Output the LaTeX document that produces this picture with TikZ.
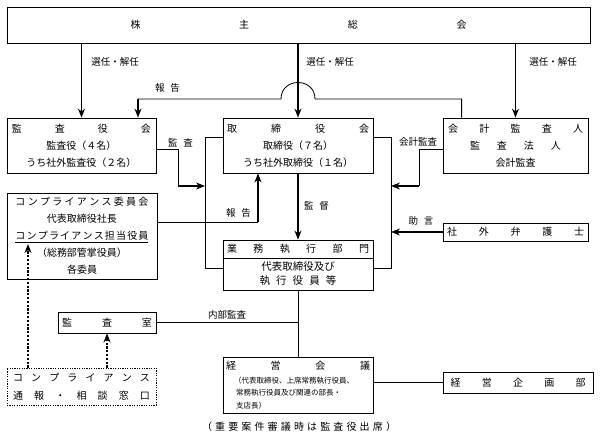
\documentclass[tikz,border=0pt]{standalone}
\usepackage{fontspec}
\newfontfamily\jp{Noto Sans CJK JP}
\usetikzlibrary{positioning,arrows.meta}
\tikzset{
	>={Stealth[length=9pt,width=7pt]},
	orgbox/.style = {draw, line width=0.8pt, inner sep=0pt},
	dotbox/.style = {draw, line width=1pt, dash pattern=on 1.2pt off 1.2pt, inner sep=0pt},
	conn/.style = {line width=0.8pt},
	arr/.style = {->, line width=1.4pt},
	dotarr/.style = {->, line width=1.8pt, dash pattern=on 2.2pt off 1.6pt},
	lbl/.style = {inner sep=0pt, font=\jp\fontsize{9.5}{12}\selectfont},
}
\newcommand{\spread}[2]{\makebox[#1]{#2}}

\begin{document}
\begin{tikzpicture}[
x = 1pt, y = -1pt,
every node/.style = {
	font = \jp\fontsize{10}{17}\selectfont,
	align = center,
}
]
\useasboundingbox (0,0) rectangle (600,437);

% boxes
\node[orgbox, minimum width=583pt, minimum height=36pt] (soukai) at (298.5,25) {\spread{336pt}{株\hfill 主\hfill 総\hfill 会}};
\node[orgbox, minimum width=149pt, minimum height=55pt] (kansa) at (81.5,145.5) {\spread{139pt}{監\hfill 査\hfill 役\hfill 会}\\ 監査役（４名）\\ うち社外監査役（２名）};
\node[orgbox, minimum width=150pt, minimum height=55pt] (torishimari) at (298,145.5) {\spread{142pt}{取\hfill 締\hfill 役\hfill 会}\\ 取締役（７名）\\ うち社外取締役（１名）};
\node[orgbox, minimum width=145pt, minimum height=55pt] (kaikei) at (515.5,145.5) {\spread{135pt}{会\hfill 計\hfill 監\hfill 査\hfill 人}\\ \spread{91pt}{監\hfill 査\hfill 法\hfill 人}\\ 会計監査};
\node[orgbox, minimum width=150pt, minimum height=86pt] (comp) at (82,236) {\spread{133pt}{コ\hfill ン\hfill プ\hfill ラ\hfill イ\hfill ア\hfill ン\hfill ス\hfill 委\hfill 員\hfill 会}\\ 代表取締役社長\\ \underline{\spread{133pt}{コ\hfill ン\hfill プ\hfill ラ\hfill イ\hfill ア\hfill ン\hfill ス\hfill 担\hfill 当\hfill 役\hfill 員}}\\ （総務部管掌役員）\\ 各委員};
\node[orgbox, minimum width=150pt, minimum height=18pt] (gyomu) at (298,249) {\spread{142pt}{業\hfill 務\hfill 執\hfill 行\hfill 部\hfill 門}};
\node[orgbox, minimum width=150pt, minimum height=32pt, font=\jp\fontsize{10.5}{14}\selectfont] (gyomusub) at (298,274) {代表取締役及び\\ \spread{77pt}{執\hfill 行\hfill 役\hfill 員\hfill 等}};
\node[orgbox, minimum width=145pt, minimum height=18pt] (bengoshi) at (515.5,232) {\spread{137pt}{社\hfill 外\hfill 弁\hfill 護\hfill 士}};
\node[orgbox, minimum width=98pt, minimum height=21pt] (kansashitsu) at (107,322.5) {\spread{90pt}{監\hfill 査\hfill 室}};
\node[dotbox, minimum width=149pt, minimum height=37pt, font=\jp\fontsize{10}{18}\selectfont] (madoguchi) at (81.5,386.5) {\spread{137pt}{コ\hfill ン\hfill プ\hfill ラ\hfill イ\hfill ア\hfill ン\hfill ス}\\ \spread{137pt}{通\hfill 報\hfill ・\hfill 相\hfill 談\hfill 窓\hfill 口}};
\node[orgbox, minimum width=150pt, minimum height=56pt, align=left, font=\jp\fontsize{7.5}{12.5}\selectfont] (keiei) at (298,385) {{\fontsize{10}{12}\selectfont\spread{144pt}{経\hfill 営\hfill 会\hfill 議}}\\[1.5pt] \hspace*{8pt}（代表取締役、上席常務執行役員、\\ \hspace*{10pt}常務執行役員及び関連の部長・\\ \hspace*{10pt}支店長）};
\node[orgbox, minimum width=150pt, minimum height=21pt] (kikaku) at (518,382.5) {\spread{135pt}{経\hfill 営\hfill 企\hfill 画\hfill 部}};
\node[inner sep=0pt] (chuki) at (299,427) {\spread{194pt}{（\hfill 重\hfill 要\hfill 案\hfill 件\hfill 審\hfill 議\hfill 時\hfill は\hfill 監\hfill 査\hfill 役\hfill 出\hfill 席\hfill ）}};

% labels
\node[lbl] (sennin1) at (115,62) {選任・解任};
\node[lbl] (sennin2) at (330,62) {選任・解任};
\node[lbl] (sennin3) at (553,62) {選任・解任};
\node[lbl] (hokokulbl1) at (167.5,88) {\spread{25pt}{報\hfill 告}};
\node[lbl] (kansalbl) at (180.5,143) {\spread{25pt}{監\hfill 査}};
\node[lbl] (kaikeilbl) at (418,142) {会計監査};
\node[lbl] (kantokulbl) at (316.5,206) {\spread{25pt}{監\hfill 督}};
\node[lbl] (hokokulbl2) at (238.5,213) {\spread{25pt}{報\hfill 告}};
\node[lbl] (jogenlbl) at (421,221) {\spread{25pt}{助\hfill 言}};
\node[lbl] (naibulbl) at (227,315) {内部監査};

% bend points
\coordinate (lbrk) at (205,137);
\coordinate (rbrk) at (391,137);
\coordinate (hokoku1) at (138,99);
\coordinate (hokoku2) at (258,222);
\coordinate (kansakink) at (178,186);
\coordinate (kaikeikink) at (419,186);
\coordinate (comptip) at (28,244);

% connectors
\draw[arr] (soukai.south -| kansa.north) -- (kansa.north);
\draw[arr] (soukai.south -| torishimari.north) -- (torishimari.north);
\draw[arr] (soukai.south -| kaikei.north) -- (kaikei.north);
\draw[conn] ([xshift=19pt]kaikei.north west) |- (315,99) .. controls (315,77) and (281,77) .. (281,99) -- (hokoku1);
\draw[arr] (hokoku1) -- (hokoku1 |- kansa.north);
\draw[conn] (lbrk -| torishimari.west) -- (lbrk) |- ([yshift=6pt]gyomusub.west);
\draw[conn] (rbrk -| torishimari.east) -- (rbrk) |- ([yshift=6pt]gyomusub.east);
\draw[conn] ([yshift=-3.5pt]kansa.east) -| (kansakink);
\draw[arr] (kansakink) -- (kansakink -| lbrk);
\draw[conn] ([yshift=-3.5pt]kaikei.west) -| (kaikeikink);
\draw[arr] (kaikeikink) -- (kaikeikink -| rbrk);
\draw[arr] (torishimari.south) -- (gyomu.north);
\draw[conn] (hokoku2 -| comp.east) -- (hokoku2);
\draw[arr] (hokoku2) -- (hokoku2 |- torishimari.south);
\draw[arr] (bengoshi.west) -- (bengoshi.west -| rbrk);
\draw[conn] (gyomusub.south) -- (keiei.north);
\draw[conn] (kansashitsu.east) -- (kansashitsu.east -| keiei.north);
\draw[conn] (keiei.east |- kikaku.west) -- (kikaku.west);
\draw[dotarr] (madoguchi.north -| comptip) -- (comptip);
\draw[dotarr] (madoguchi.north -| kansashitsu.south) -- (kansashitsu.south);

\end{tikzpicture}
\end{document}
